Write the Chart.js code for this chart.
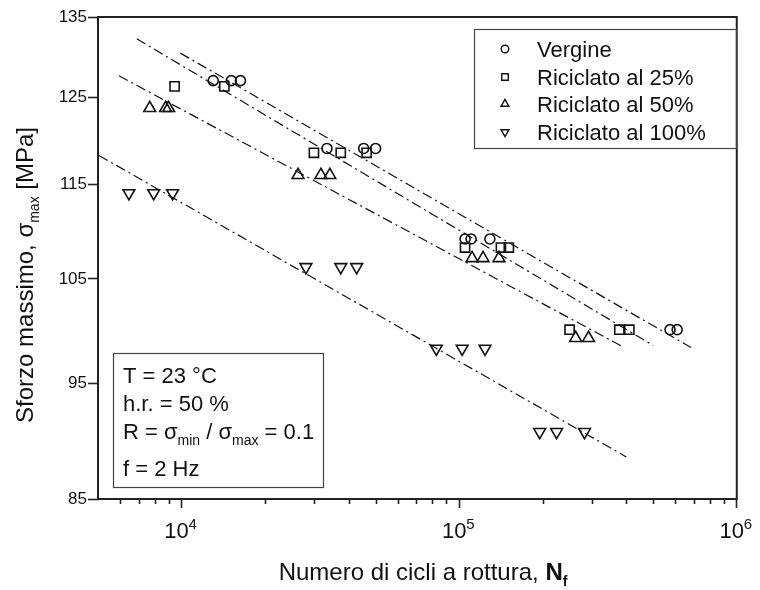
<!DOCTYPE html>
<html>
<head>
<meta charset="utf-8">
<script src="https://cdn.jsdelivr.net/npm/chart.js@4.4.0/dist/chart.umd.min.js"></script>
<style>
  body { margin: 0; background: #fff; }
</style>
</head>
<body>
<canvas id="myChart" width="760" height="590"></canvas>
<script>
// cicli a rottura (N) e sforzo massimo (MPa)
const vergine_N = [13000, 15100, 16300, 33400, 45300, 50000, 105000, 110400, 129000, 575000, 610000]
const vergine_S = [127, 127, 127, 119, 119, 119, 109.1, 109.1, 109.1, 100, 100]

const ric25_N = [9440, 14260, 29980, 37450, 46420, 105000, 141400, 151000, 249900, 377600, 410200]
const ric25_S = [126.3, 126.3, 118.5, 118.5, 118.5, 108.2, 108.2, 108.2, 100, 100, 100]

const ric50_N = [7680, 8760, 8985, 26270, 31760, 34200, 111300, 121900, 139100, 262700, 292400]
const ric50_S = [123.7, 123.7, 123.7, 116, 116, 116, 107.1, 107.1, 107.1, 99.2, 99.2]

const ric100_N = [6460, 7935, 9283, 28050, 37450, 42730, 82730, 102500, 123900, 195000, 224400, 282900]
const ric100_S = [114, 114, 114, 106.2, 106.2, 106.2, 98.2, 98.2, 98.2, 90.65, 90.65, 90.65]

// rette di regressione (estremi)
const fit_vergine_N = [9900, 684000]
const fit_vergine_S = [130.4, 98.3]
const fit_25_N = [6900, 500000]
const fit_25_S = [132.2, 98.5]
const fit_50_N = [5950, 390000]
const fit_50_S = [127.6, 98.35]
const fit_100_N = [5040, 400000]
const fit_100_S = [118.2, 88.5]

const series_names = ['Vergine', 'Riciclato al 25%', 'Riciclato al 50%', 'Riciclato al 100%']

const x_major = [1e4, 1e5, 1e6]
const x_minor = [6000, 7000, 8000, 9000, 20000, 30000, 40000, 50000, 60000, 70000, 80000, 90000,
                 200000, 300000, 400000, 500000, 600000, 700000, 800000, 900000]
const y_ticks = [85, 95, 105, 115, 125, 135]

const FONT = '"Liberation Sans", Arial, sans-serif'
const INK = '#111'

function pts(N, S) {
  return N.map((n, i) => ({ x: n, y: S[i] }))
}

const marker_styles = [
  { pointStyle: 'circle', radius: 5, rotation: 0 },
  { pointStyle: 'rect', radius: 6.5, rotation: 0 },
  { pointStyle: 'triangle', radius: 6.8, rotation: 0 },
  { pointStyle: 'triangle', radius: 6.8, rotation: 180 }
]

function markerSet(label, N, S, k) {
  return {
    label: label,
    data: pts(N, S),
    showLine: false,
    pointStyle: marker_styles[k].pointStyle,
    pointRotation: marker_styles[k].rotation,
    pointRadius: marker_styles[k].radius,
    pointBorderColor: INK,
    pointBackgroundColor: 'rgba(0,0,0,0)',
    pointBorderWidth: 1.6
  }
}

function fitSet(N, S) {
  return {
    label: 'fit',
    data: pts(N, S),
    showLine: true,
    borderColor: INK,
    borderWidth: 1.2,
    borderDash: [10, 4, 2, 4],
    pointRadius: 0,
    fill: false
  }
}

// testo con pedici
function drawRuns(c, runs, x, y, align) {
  let w = 0
  runs.forEach(r => {
    c.font = (r.bold ? 'bold ' : '') + r.size + 'px ' + FONT
    r.w = c.measureText(r.t).width
    w += r.w
  })
  let cx = align == 'center' ? x - w / 2 : x
  runs.forEach(r => {
    c.font = (r.bold ? 'bold ' : '') + r.size + 'px ' + FONT
    c.fillText(r.t, cx, y + (r.dy || 0))
    cx += r.w
  })
}

const extras = {
  id: 'extras',
  afterDraw(chart) {
    const c = chart.ctx
    const a = chart.chartArea
    const xs = chart.scales.x
    c.save()

    // cornice
    c.strokeStyle = '#222'
    c.lineWidth = 2
    c.strokeRect(a.left, a.top, a.right - a.left, a.bottom - a.top)

    // tacche minori
    c.lineWidth = 1.6
    x_minor.forEach(v => {
      const px = Math.round(xs.getPixelForValue(v)) + 0.5
      c.beginPath()
      c.moveTo(px, a.bottom)
      c.lineTo(px, a.bottom + 5)
      c.stroke()
    })

    c.fillStyle = INK
    c.textBaseline = 'alphabetic'
    c.textAlign = 'left'

    // esponenti delle etichette 10^n
    c.font = '15px ' + FONT
    x_major.forEach(v => {
      const px = xs.getPixelForValue(v)
      c.fillText(String(Math.round(Math.log10(v))), px + 7, 529)
    })

    // titolo asse x
    drawRuns(c, [
      { t: 'Numero di cicli a rottura, ', size: 24 },
      { t: 'N', size: 24, bold: true },
      { t: 'f', size: 14, bold: true, dy: 6 }
    ], 423, 580, 'center')

    // titolo asse y
    c.save()
    c.translate(33, 275)
    c.rotate(-Math.PI / 2)
    drawRuns(c, [
      { t: 'Sforzo massimo, \u03c3', size: 24 },
      { t: 'max', size: 14, dy: 6 },
      { t: ' [MPa]', size: 24 }
    ], 0, 0, 'center')
    c.restore()

    // legenda
    c.strokeStyle = '#444'
    c.lineWidth = 1.2
    c.strokeRect(474.5, 29.5, 262, 119)
    const rows = [49, 77, 104, 132]
    series_names.forEach((name, i) => {
      c.strokeStyle = INK
      c.fillStyle = 'rgba(0,0,0,0)'
      c.lineWidth = 1.4
      Chart.helpers.drawPoint(c, {
        pointStyle: marker_styles[i].pointStyle,
        rotation: marker_styles[i].rotation,
        radius: marker_styles[i].pointStyle == 'circle' ? 3.8 : 4.6,
        borderWidth: 1.4
      }, 505, rows[i])
      c.fillStyle = INK
      c.font = '22px ' + FONT
      c.fillText(name, 537, rows[i] + 8)
    })

    // condizioni di prova
    c.strokeStyle = '#444'
    c.lineWidth = 1.2
    c.strokeRect(113.5, 353.5, 210, 134)
    c.fillStyle = INK
    drawRuns(c, [{ t: 'T = 23 \u00b0C', size: 22 }], 123, 383)
    drawRuns(c, [{ t: 'h.r. = 50 %', size: 22 }], 123, 411)
    drawRuns(c, [
      { t: 'R = \u03c3', size: 22 },
      { t: 'min', size: 14, dy: 6 },
      { t: ' / \u03c3', size: 22 },
      { t: 'max', size: 14, dy: 6 },
      { t: ' = 0.1', size: 22 }
    ], 123, 439)
    drawRuns(c, [{ t: 'f = 2 Hz', size: 22 }], 123, 476)

    c.restore()
  }
}

const ctx = document.getElementById('myChart').getContext('2d')
const myChart = new Chart(ctx, {
  type: 'scatter',
  data: {
    datasets: [
      fitSet(fit_vergine_N, fit_vergine_S),
      fitSet(fit_25_N, fit_25_S),
      fitSet(fit_50_N, fit_50_S),
      fitSet(fit_100_N, fit_100_S),
      markerSet(series_names[0], vergine_N, vergine_S, 0),
      markerSet(series_names[1], ric25_N, ric25_S, 1),
      markerSet(series_names[2], ric50_N, ric50_S, 2),
      markerSet(series_names[3], ric100_N, ric100_S, 3)
    ]
  },
  options: {
    responsive: false,
    animation: false,
    layout: { padding: { top: 17, right: 20, left: 0, bottom: 0 } },
    plugins: {
      legend: { display: false },
      tooltip: { enabled: false }
    },
    scales: {
      x: {
        type: 'logarithmic',
        min: 5000,
        max: 1000000,
        afterBuildTicks: s => { s.ticks = x_major.map(v => ({ value: v })) },
        afterFit: s => { s.height = 91 },
        ticks: {
          autoSkip: false,
          maxRotation: 0,
          padding: 11,
          labelOffset: -5,
          color: INK,
          font: { family: FONT, size: 22 },
          callback: v => '10'
        },
        grid: { drawOnChartArea: false, tickLength: 9, tickColor: '#222', tickWidth: 1.6 },
        border: { display: false }
      },
      y: {
        type: 'logarithmic',
        min: 85,
        max: 135,
        afterBuildTicks: s => { s.ticks = y_ticks.map(v => ({ value: v })) },
        afterFit: s => { s.width = 98 },
        ticks: {
          autoSkip: false,
          padding: 1,
          color: INK,
          font: { family: FONT, size: 17 },
          callback: v => String(v)
        },
        grid: { drawOnChartArea: false, tickLength: 10, tickColor: '#222', tickWidth: 1.6 },
        border: { display: false }
      }
    }
  },
  plugins: [extras]
})
</script>
</body>
</html>
